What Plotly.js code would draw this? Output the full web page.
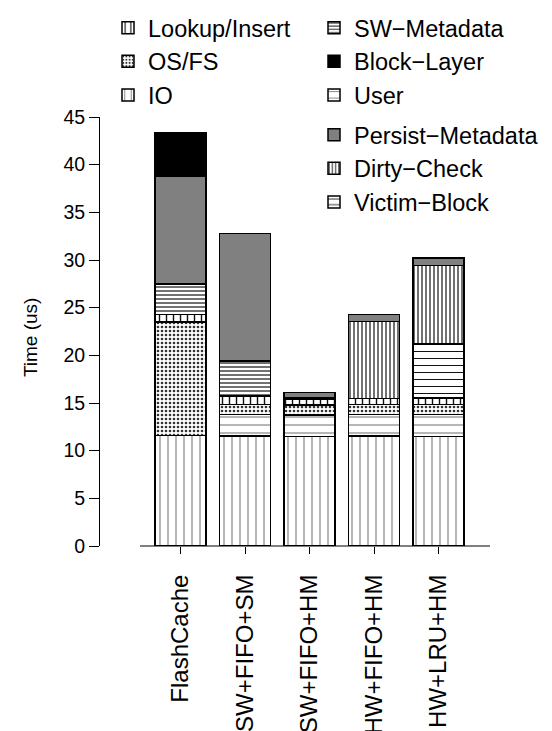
<!DOCTYPE html>
<html><head><meta charset="utf-8">
<script src="https://cdn.plot.ly/plotly-3.0.1.min.js"></script>
<style>html,body{margin:0;padding:0;background:#fff}</style>
</head><body>
<div id="chart" style="width:552px;height:731px"></div>
<script>
const categories = ["FlashCache", "SW+FIFO+SM", "SW+FIFO+HM", "HW+FIFO+HM", "HW+LRU+HM"];
const ioValues       = [11.6, 11.55, 11.5, 11.55, 11.5];
const userValues     = [0, 2.25, 2.25, 2.25, 2.3];
const osfsValues     = [11.9, 1.05, 1.05, 1.05, 1.05];
const lookupValues   = [0.8, 0.9, 0.6, 0.6, 0.65];
const swMetaValues   = [3.2, 3.65, 0.2, 0, 0];
const victimValues   = [0, 0, 0, 0, 5.7];
const dirtyValues    = [0, 0, 0, 8.1, 8.2];
const persistValues  = [11.3, 13.4, 0.5, 0.75, 0.8];
const blockValues    = [4.6, 0, 0, 0, 0];
const yTitle = "Time (us)";

const FONT = "Liberation Sans, Arial, Helvetica, sans-serif";
function mk(name, y, pattern, color, legend, rank) {
  const marker = {color: color || "white", line: {color: "black", width: 1.5}};
  if (pattern) marker.pattern = pattern;
  return {type: "bar", name: name, x: categories, y: y, marker: marker,
          legend: legend, legendrank: rank, hoverinfo: "skip"};
}
const traces = [
  mk("IO", ioValues, {shape: "|", size: 8, solidity: 0.12, fgcolor: "#666", bgcolor: "white", fillmode: "replace"}, "white", "legend", 3),
  mk("User", userValues, {shape: "-", size: 8, solidity: 0.12, fgcolor: "#666", bgcolor: "white", fillmode: "replace"}, "white", "legend2", 3),
  mk("OS/FS", osfsValues, {shape: ".", size: 4, solidity: 0.35, fgcolor: "#333", bgcolor: "white", fillmode: "replace"}, "white", "legend", 2),
  mk("Lookup/Insert", lookupValues, {shape: "|", size: 7, solidity: 0.2, fgcolor: "#111", bgcolor: "white", fillmode: "replace"}, "white", "legend", 1),
  mk("SW\u2212Metadata", swMetaValues, {shape: "-", size: 4, solidity: 0.35, fgcolor: "#333", bgcolor: "white", fillmode: "replace"}, "white", "legend2", 1),
  mk("Victim\u2212Block", victimValues, {shape: "-", size: 7, solidity: 0.15, fgcolor: "#111", bgcolor: "white", fillmode: "replace"}, "white", "legend3", 3),
  mk("Dirty\u2212Check", dirtyValues, {shape: "|", size: 4, solidity: 0.35, fgcolor: "#333", bgcolor: "white", fillmode: "replace"}, "white", "legend3", 2),
  mk("Persist\u2212Metadata", persistValues, null, "#808080", "legend3", 1),
  mk("Block\u2212Layer", blockValues, null, "#000000", "legend2", 2)
];

const legendBase = {xref: "container", yref: "container", xanchor: "left", yanchor: "top",
  traceorder: "normal", bgcolor: "rgba(0,0,0,0)", font: {family: FONT, size: 23.5, color: "black"},
  itemwidth: 30, tracegroupgap: 0};

const layout = {
  width: 552, height: 731,
  margin: {l: 100, r: 52, t: 117, b: 185, autoexpand: false},
  paper_bgcolor: "white", plot_bgcolor: "white",
  font: {family: FONT, size: 19, color: "black"},
  barmode: "stack", bargap: 0.21,
  showlegend: true,
  legend: Object.assign({}, legendBase, {x: 108/552, y: 1 - 6/731}),
  legend2: Object.assign({}, legendBase, {x: 314/552, y: 1 - 6/731}),
  legend3: Object.assign({}, legendBase, {x: 314/552, y: 1 - 113/731}),
  xaxis: {
    range: [-1.248, 4.953],
    type: "category",
    showline: false,
    ticks: "outside", ticklen: 7, tickcolor: "black",
    tickangle: -90, showgrid: false, zeroline: false,
    ticklabelstandoff: 11,
    tickfont: {family: FONT, size: 24, color: "black"}
  },
  yaxis: {
    range: [0, 45], dtick: 5, tick0: 0,
    showline: true, linecolor: "black", linewidth: 1,
    ticks: "outside", ticklen: 10, tickcolor: "black",
    showgrid: false, zeroline: false,
    tickfont: {family: FONT, size: 19.5, color: "black"}
  },
  annotations: [
    {text: yTitle, xref: "paper", yref: "paper", x: -0.175, y: 0.487, textangle: -90,
     showarrow: false, xanchor: "center", yanchor: "middle",
     font: {family: FONT, size: 19, color: "black"}}
  ],
  shapes: [
    {type: "line", xref: "x", yref: "paper", x0: -0.628, x1: 4.798, y0: 0, y1: 0,
     line: {color: "black", width: 1}}
  ]
};
Plotly.newPlot("chart", traces, layout, {staticPlot: true, displayModeBar: false});
</script>
</body></html>
